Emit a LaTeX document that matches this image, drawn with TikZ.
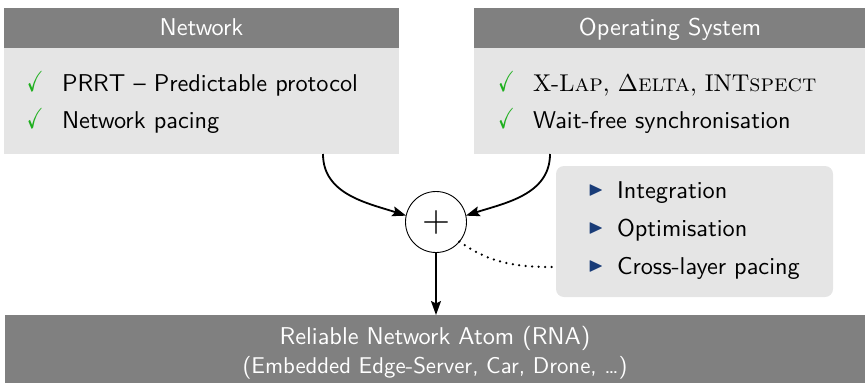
\documentclass[tikz,border=0pt]{standalone}
\usepackage{fix-cm}
\usepackage{amssymb}
\usepackage{graphicx}
\usepackage{fontspec}
\usetikzlibrary{arrows.meta}
\definecolor{hdr}{gray}{0.5}
\definecolor{bdy}{gray}{0.9}
\definecolor{chkgreen}{RGB}{30,175,30}
\definecolor{itemblue}{RGB}{25,60,120}
\newcommand{\sz}[1]{\scalebox{2.43}{#1}}
\newcommand{\szs}[1]{\scalebox{2.28}{#1}}
\newcommand{\mychk}{{\color{chkgreen}\scalebox{2.0}[2.9]{$\checkmark$}}}
\newcommand{\mytri}{{\color{itemblue}\scalebox{2.0}{$\blacktriangleright$}}}
\begin{document}
\begin{tikzpicture}[x=1pt,y=-1pt,
  every node/.style={inner sep=0pt,outer sep=0pt,font={\fontsize{10}{12}\selectfont}},
  hdrbox/.style={fill=hdr,minimum height=40pt,text=white,text height=14pt,text depth=0pt,
    font={\sffamily\fontsize{10}{12}\selectfont}},
  bodybox/.style={fill=bdy},
  txt/.style={anchor=base west,font={\sffamily\fontsize{10}{12}\selectfont}},
  chkmark/.style={anchor=base west},
  trimark/.style={anchor=center},
  arr/.style={-{Stealth[length=14pt,width=10pt,inset=2.5pt]},line width=1.8pt},
  dotline/.style={line width=2.5pt,line cap=round,dash pattern=on 0pt off 6.5pt}
]
\path[use as bounding box] (0,0) rectangle (865,383);

% left box
\node[hdrbox,minimum width=395pt] (lhead) at (201.5,28) {\sz{Network}};
\node[bodybox,minimum width=395pt,minimum height=106pt] (lbody) at (201.5,101) {};
\node[chkmark] (lc1) at (27,91) {\mychk};
\node[txt] (lt1) at (62,91) {\sz{PRRT -- Predictable protocol}};
\node[chkmark] (lc2) at (27,128) {\mychk};
\node[txt] (lt2) at (62,128) {\sz{Network pacing}};

% right box
\node[hdrbox,minimum width=392pt] (rhead) at (670,28) {\sz{Operating System}};
\node[bodybox,minimum width=392pt,minimum height=106pt] (rbody) at (670,101) {};
\node[chkmark] (rc1) at (498,91) {\mychk};
\node[txt,font={\rmfamily\fontsize{10}{12}\selectfont}] (rt1) at (533,91) {\sz{X-L\textsc{ap}, $\Delta$\textsc{elta}, INT\textsc{spect}}};
\node[chkmark] (rc2) at (498,128) {\mychk};
\node[txt] (rt2) at (533,128) {\sz{Wait-free synchronisation}};

% list box
\node[bodybox,rounded corners=8pt,minimum width=277pt,minimum height=131pt] (lst) at (694.5,231.5) {};
\node[trimark] (i1) at (596,190.5) {\mytri};
\node[txt] (it1) at (617,198) {\sz{Integration}};
\node[trimark] (i2) at (596,228.5) {\mytri};
\node[txt] (it2) at (617,236) {\sz{Optimisation}};
\node[trimark] (i3) at (596,266.5) {\mytri};
\node[txt] (it3) at (617,274) {\sz{Cross-layer pacing}};

% plus
\node[draw,circle,line width=0.9pt,minimum size=61pt] (plus) at (436,222) {\scalebox{3.6}{$+$}};

% bottom box
\node[fill=hdr,minimum width=860pt,minimum height=68pt] (bot) at (435,349) {};
\node[anchor=base,text=white,font={\sffamily\fontsize{10}{12}\selectfont}] (b1) at (435,344) {\sz{Reliable Network Atom (RNA)}};
\node[anchor=base,text=white,font={\sffamily\fontsize{10}{12}\selectfont}] (b2) at (435,373) {\szs{(Embedded Edge-Server, Car, Drone, \dots)}};

% connectors
\draw[arr] ([xshift=121.5pt]lbody.south) to[out=-90,in=162] (plus.168);
\draw[arr] ([xshift=-120pt]rbody.south) to[out=-90,in=18] (plus.12);
\draw[arr] (plus.south) -- (plus.south |- bot.north);
\draw[dotline] (plus.-40) to[out=-35,in=180] ([yshift=-35.5pt]lst.west);
\end{tikzpicture}
\end{document}
